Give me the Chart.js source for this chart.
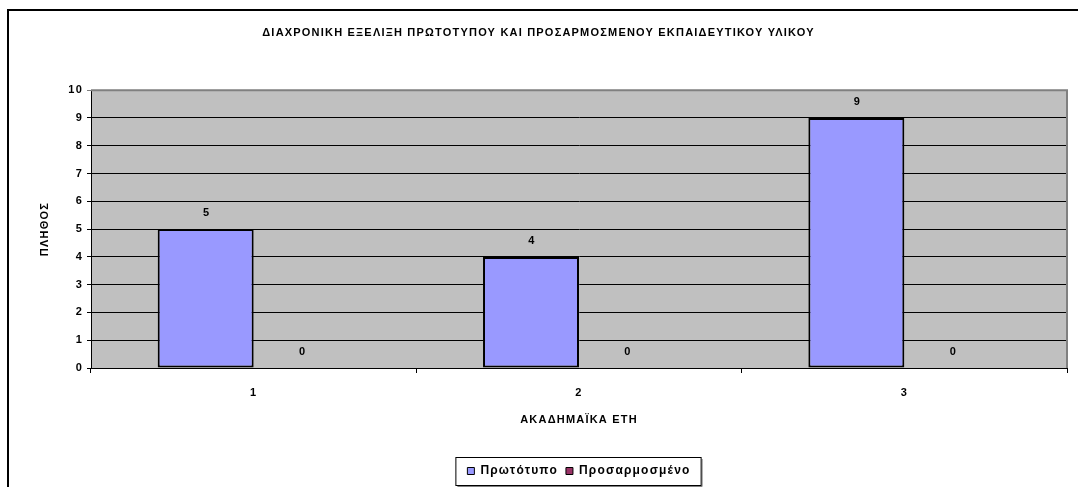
<!DOCTYPE html>
<html>
<head>
<meta charset="utf-8">
<script src="https://cdn.jsdelivr.net/npm/chart.js@4"></script>
<style>
  html, body { margin: 0; padding: 0; background: #fff; }
  #wrap { width: 1078px; height: 487px; }
</style>
</head>
<body>
<div id="wrap"><canvas id="chart" width="1078" height="487"></canvas></div>
<script>
// --- data ---
const years = ["1", "2", "3"];
const prototypo = [5, 4, 9];
const prosarmosmeno = [0, 0, 0];
const yTicks = [0, 1, 2, 3, 4, 5, 6, 7, 8, 9, 10];

const chartTitle = "ΔΙΑΧΡΟΝΙΚΗ ΕΞΕΛΙΞΗ ΠΡΩΤΟΤΥΠΟΥ ΚΑΙ ΠΡΟΣΑΡΜΟΣΜΕΝΟΥ ΕΚΠΑΙΔΕΥΤΙΚΟΥ ΥΛΙΚΟΥ";
const xTitle = "ΑΚΑΔΗΜΑΪΚΑ ΕΤΗ";
const yTitle = "ΠΛΗΘΟΣ";

const FONT = "Arial, 'Liberation Sans', sans-serif";
const SPACING = "1.2px"; // old excel text renders wide

// grey plot background, outer frame, value labels, legend box
const frame = {
  id: "frame",
  beforeUpdate(chart) { chart.ctx.letterSpacing = SPACING; },
  beforeLayout(chart) { chart.ctx.letterSpacing = SPACING; },
  beforeDraw(chart) {
    const { ctx, chartArea: a } = chart;
    ctx.letterSpacing = SPACING;
    ctx.save();
    ctx.fillStyle = "#fff";
    ctx.fillRect(0, 0, chart.width, chart.height);
    ctx.fillStyle = "#C0C0C0";
    ctx.fillRect(a.left, a.top, a.right - a.left, a.bottom - a.top);
    ctx.strokeStyle = "#000";
    ctx.lineWidth = 2;
    ctx.strokeRect(8, 10, chart.width + 20, chart.height + 20);
    ctx.restore();
  },
  afterDatasetsDraw(chart) {
    const { ctx, chartArea: a } = chart;
    ctx.save();
    // plot area border top/right (grey)
    ctx.strokeStyle = "#808080";
    ctx.lineWidth = 2;
    ctx.beginPath();
    ctx.moveTo(a.left, a.top);
    ctx.lineTo(a.right, a.top);
    ctx.lineTo(a.right, a.bottom);
    ctx.stroke();
    // value labels
    ctx.fillStyle = "#000";
    ctx.font = "bold 11px " + FONT;
    ctx.textAlign = "center";
    ctx.textBaseline = "middle";
    chart.data.datasets.forEach((ds, i) => {
      chart.getDatasetMeta(i).data.forEach((bar, j) => {
        ctx.fillText(String(ds.data[j]), bar.x + 1, bar.y - 16);
      });
    });
    ctx.restore();
  },
  afterDraw(chart) {
    const lg = chart.legend;
    if (!lg || !lg.legendHitBoxes.length) return;
    const hb = lg.legendHitBoxes;
    const first = hb[0], last = hb[hb.length - 1];
    const x0 = first.left - 12, x1 = last.left + last.width + 10;
    const y0 = 457, y1 = 485;
    const ctx = chart.ctx;
    ctx.save();
    ctx.strokeStyle = "#808080";
    ctx.lineWidth = 1;
    ctx.beginPath();
    ctx.moveTo(x1 + 1.5, y0 + 2);
    ctx.lineTo(x1 + 1.5, y1 + 1.5);
    ctx.lineTo(x0 + 2, y1 + 1.5);
    ctx.stroke();
    ctx.strokeStyle = "#000";
    ctx.strokeRect(x0 + 0.5, y0 + 0.5, x1 - x0, y1 - y0);
    ctx.restore();
  }
};

const ctx = document.getElementById("chart").getContext("2d");

new Chart(ctx, {
  type: "bar",
  data: {
    labels: years,
    datasets: [
      {
        label: "Πρωτότυπο",
        data: prototypo,
        backgroundColor: "#9999FF",
        borderColor: "#000",
        borderWidth: 2,
        borderSkipped: false,
      },
      {
        label: "Προσαρμοσμένο",
        data: prosarmosmeno,
        backgroundColor: "#993366",
        borderColor: "#000",
        borderWidth: 2,
        borderSkipped: false,
      },
    ],
  },
  options: {
    responsive: false,
    animation: false,
    layout: { padding: { left: 10, right: 11, top: 0, bottom: 0 } },
    datasets: { bar: { categoryPercentage: 0.59, barPercentage: 1 } },
    plugins: {
      title: {
        display: true,
        text: chartTitle,
        color: "#000",
        font: { family: FONT, size: 11, weight: "bold" },
        padding: { top: 26, bottom: 51 },
      },
      legend: {
        position: "bottom",
        fullSize: false,
        labels: {
          color: "#000",
          font: { family: FONT, size: 12, weight: "bold" },
          boxWidth: 7,
          boxHeight: 7,
          padding: 8,
          generateLabels(chart) {
            return chart.data.datasets.map((ds, i) => ({
              text: ds.label,
              fillStyle: ds.backgroundColor,
              strokeStyle: "#000",
              lineWidth: 1,
              fontColor: "#000",
              datasetIndex: i,
              hidden: false,
            }));
          },
        },
      },
      tooltip: { enabled: false },
    },
    scales: {
      x: {
        grid: {
          offset: true,
          drawOnChartArea: false,
          drawTicks: true,
          tickLength: 5,
          color: "#000",
        },
        border: { color: "#000", width: 1 },
        ticks: {
          color: "#000",
          padding: 13,
          font: { family: FONT, size: 11, weight: "bold" },
        },
        title: {
          display: true,
          text: xTitle,
          color: "#000",
          font: { family: FONT, size: 11, weight: "bold" },
          padding: { top: 0, bottom: 30 },
        },
        afterFit(scale) { scale.height = 89; },
      },
      y: {
        min: 0,
        max: 10,
        afterBuildTicks(scale) { scale.ticks = yTicks.map(v => ({ value: v })); },
        grid: {
          color: (c) => (c.tick && c.tick.value === 10 ? "#808080" : "#000"),
          tickLength: 4,
          drawTicks: true,
        },
        border: { color: "#000", width: 1 },
        ticks: {
          color: "#000",
          padding: 4,
          font: { family: FONT, size: 11, weight: "bold" },
        },
        title: {
          display: true,
          text: yTitle,
          color: "#000",
          font: { family: FONT, size: 11, weight: "bold" },
          padding: { top: 28, bottom: 0 },
        },
        afterFit(scale) { scale.width = 81; },
      },
    },
  },
  plugins: [frame],
});
</script>
</body>
</html>
